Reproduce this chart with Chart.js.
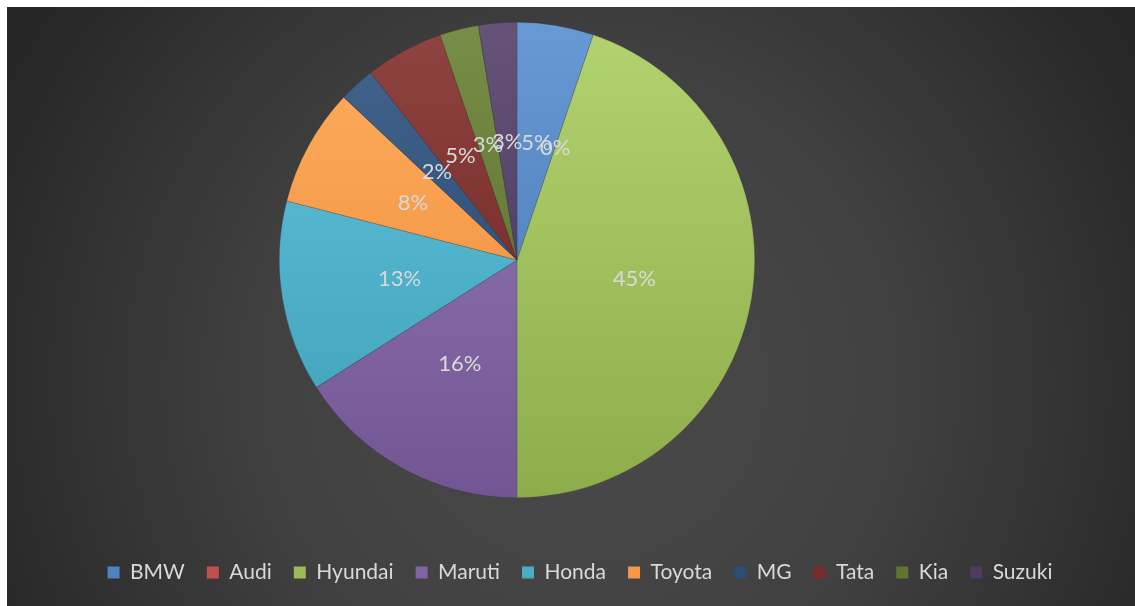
<!DOCTYPE html>
<html>
<head>
<meta charset="utf-8">
<script src="https://cdn.jsdelivr.net/npm/chart.js@4/dist/chart.umd.min.js"></script>
<style>
  html, body { margin: 0; padding: 0; background: #fff; }
  #wrap { position: absolute; left: 7px; top: 7px; width: 1128px; height: 599px; }
</style>
</head>
<body>
<div id="wrap"><canvas id="brand-chart"></canvas></div>
<script>
const brands = ["BMW", "Audi", "Hyundai", "Maruti", "Honda", "Toyota", "MG", "Tata", "Kia", "Suzuki"];
const shares = [5.2, 0, 44.8, 16.0, 13.0, 8.0, 2.45, 5.3, 2.65, 2.6];
const colors = ["#4f81bd", "#c0504d", "#9bbb59", "#8064a2", "#4bacc6", "#f79646", "#2c4d75", "#772c2a", "#5f7530", "#4d3b62"];

function shade(hex, amt) {
  let n = parseInt(hex.slice(1), 16);
  let r = Math.min(255, Math.max(0, (n >> 16) + amt));
  let g = Math.min(255, Math.max(0, ((n >> 8) & 255) + amt));
  let b = Math.min(255, Math.max(0, (n & 255) + amt));
  return `rgb(${r}, ${g}, ${b})`;
}

// pie sits left of the legend's centre, so place it by hand
const pieFrame = {
  id: "pieFrame",
  afterLayout(chart) {
    let a = chart.chartArea;
    let cx = 510, cy = 253, r = 238;
    a.left = cx - r;
    a.right = cx + r;
    a.top = cy - r;
    a.bottom = cy + r;
    a.width = 2 * r;
    a.height = 2 * r;
    chart.legend.left += 9;
    chart.legend.right += 9;
  },
};

const backdrop = {
  id: "backdrop",
  beforeDraw(chart) {
    let { ctx, width, height } = chart;
    let g = ctx.createRadialGradient(573, 373, 0, 573, 373, 650);
    g.addColorStop(0, "#4b4b4b");
    g.addColorStop(0.5, "#404040");
    g.addColorStop(1, "#262626");
    ctx.save();
    ctx.fillStyle = g;
    ctx.fillRect(0, 0, width, height);
    ctx.restore();
  },
};

const sliceLabels = {
  id: "sliceLabels",
  afterDatasetsDraw(chart) {
    let { ctx } = chart;
    let total = shares.reduce((a, b) => a + b, 0);
    let meta = chart.getDatasetMeta(0);
    ctx.save();
    ctx.font = "22px Lato";
    ctx.fillStyle = "#d9d9d9";
    ctx.textAlign = "center";
    ctx.textBaseline = "middle";
    meta.data.forEach((arc, i) => {
      let p = arc.tooltipPosition();
      ctx.fillText(Math.round((shares[i] / total) * 100) + "%", p.x, p.y);
    });
    ctx.restore();
  },
};

let data = {
  labels: brands,
  datasets: [
    {
      data: shares,
      backgroundColor: (ctx) => {
        let area = ctx.chart.chartArea;
        let base = colors[ctx.dataIndex];
        if (!area) return base;
        let g = ctx.chart.ctx.createLinearGradient(0, area.top, 0, area.bottom);
        g.addColorStop(0, shade(base, 24));
        g.addColorStop(1, shade(base, -14));
        return g;
      },
      borderColor: "rgba(40, 40, 40, 0.35)",
      borderWidth: 0.6,
    },
  ],
};

let options = {
  responsive: true,
  maintainAspectRatio: false,
  animation: false,
  layout: { padding: { bottom: 13 } },
  plugins: {
    tooltip: { enabled: false },
    legend: {
      position: "bottom",
      labels: {
        color: "#d9d9d9",
        font: { family: "Lato", size: 21 },
        boxWidth: 12,
        boxHeight: 12,
        padding: 22,
        generateLabels: () =>
          brands.map((b, i) => ({
            text: b,
            fillStyle: colors[i],
            strokeStyle: colors[i],
            lineWidth: 0,
            fontColor: "#d9d9d9",
            hidden: false,
            index: i,
          })),
      },
    },
  },
};

new Chart(document.getElementById("brand-chart"), {
  type: "pie",
  data,
  options,
  plugins: [backdrop, pieFrame, sliceLabels],
});
</script>
</body>
</html>
